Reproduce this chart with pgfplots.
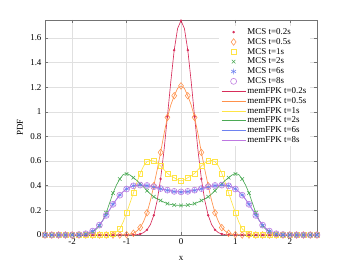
\documentclass[border=0pt]{standalone}
\usepackage{fontspec}
\setmainfont{Liberation Serif}
\usepackage{pgfplots}
\usepackage{pgfplotstable}
\pgfplotsset{compat=1.18}
\definecolor{cA}{RGB}{215,45,90}
\definecolor{cB}{RGB}{255,145,75}
\definecolor{cC}{RGB}{255,228,70}
\definecolor{cD}{RGB}{75,170,85}
\definecolor{cE}{RGB}{110,130,240}
\definecolor{cF}{RGB}{190,120,225}
\pgfplotstableread{
x a b c d e f
-2.5 0 0 0 0 0 0
-2.375 0 0 0 0 0 0
-2.25 0 0 0 0 0 0
-2.125 0 0 0 0 0 0
-2.0 0 0 0 0 0.001 0.001
-1.875 0 0 0 0.001 0.003 0.003
-1.75 0 0 0 0.006 0.010 0.010
-1.625 0 0 0 0.025 0.032 0.032
-1.5 0 0 0 0.075 0.080 0.080
-1.375 0 0 0.001 0.18 0.160 0.159
-1.25 0 0 0.010 0.34 0.250 0.249
-1.125 0 0 0.050 0.455 0.325 0.323
-1.0 0 0.003 0.18 0.495 0.375 0.373
-0.875 0.001 0.014 0.34 0.465 0.400 0.399
-0.75 0.008 0.06 0.50 0.415 0.405 0.405
-0.625 0.042 0.18 0.595 0.36 0.400 0.402
-0.5 0.16 0.40 0.60 0.31 0.390 0.392
-0.375 0.455 0.67 0.56 0.28 0.375 0.377
-0.25 0.96 0.955 0.50 0.255 0.362 0.364
-0.125 1.50 1.13 0.465 0.243 0.352 0.354
0 1.74 1.21 0.44 0.24 0.348 0.350
0.125 1.50 1.13 0.465 0.243 0.352 0.354
0.25 0.96 0.955 0.50 0.255 0.362 0.364
0.375 0.455 0.67 0.56 0.28 0.375 0.377
0.5 0.16 0.40 0.60 0.31 0.390 0.392
0.625 0.042 0.18 0.595 0.36 0.400 0.402
0.75 0.008 0.06 0.50 0.415 0.405 0.405
0.875 0.001 0.014 0.34 0.465 0.400 0.399
1.0 0 0.003 0.18 0.495 0.375 0.373
1.125 0 0 0.050 0.455 0.325 0.323
1.25 0 0 0.010 0.34 0.250 0.249
1.375 0 0 0.001 0.18 0.160 0.159
1.5 0 0 0 0.075 0.080 0.080
1.625 0 0 0 0.025 0.032 0.032
1.75 0 0 0 0.006 0.010 0.010
1.875 0 0 0 0.001 0.003 0.003
2.0 0 0 0 0 0.001 0.001
2.125 0 0 0 0 0 0
2.25 0 0 0 0 0 0
2.375 0 0 0 0 0 0
2.5 0 0 0 0 0 0
}\mcs
\pgfplotstableread{
x a b c d e f
-2.5 0 0 0 0 0 0
-2.0 0 0 0 0 0.001 0.001
-1.9375 0 0 0 0 0.002 0.002
-1.875 0 0 0 0.001 0.003 0.003
-1.8125 0 0 0 0.003 0.006 0.006
-1.75 0 0 0 0.006 0.010 0.010
-1.6875 0 0 0 0.013 0.019 0.019
-1.625 0 0 0 0.025 0.032 0.032
-1.5625 0 0 0 0.045 0.053 0.053
-1.5 0 0 0 0.075 0.080 0.080
-1.4375 0 0 0 0.12 0.118 0.118
-1.375 0 0 0.001 0.18 0.160 0.159
-1.3125 0 0 0.004 0.26 0.205 0.204
-1.25 0 0 0.010 0.34 0.250 0.249
-1.1875 0 0 0.025 0.405 0.290 0.288
-1.125 0 0 0.050 0.455 0.325 0.323
-1.0625 0 0.001 0.105 0.49 0.353 0.351
-1.0 0 0.003 0.18 0.50 0.375 0.373
-0.9375 0 0.007 0.26 0.487 0.390 0.388
-0.875 0.001 0.014 0.34 0.465 0.400 0.399
-0.8125 0.003 0.032 0.425 0.443 0.404 0.403
-0.75 0.008 0.06 0.50 0.415 0.405 0.405
-0.6875 0.019 0.11 0.56 0.39 0.403 0.404
-0.625 0.042 0.18 0.595 0.36 0.400 0.402
-0.5625 0.085 0.28 0.605 0.333 0.396 0.398
-0.5 0.16 0.40 0.60 0.31 0.390 0.392
-0.4375 0.28 0.53 0.585 0.293 0.383 0.385
-0.375 0.455 0.67 0.56 0.28 0.375 0.377
-0.3125 0.686 0.82 0.53 0.266 0.368 0.370
-0.25 0.96 0.955 0.50 0.255 0.362 0.364
-0.1875 1.244 1.055 0.48 0.248 0.357 0.359
-0.125 1.50 1.13 0.465 0.243 0.352 0.354
-0.0625 1.676 1.19 0.447 0.241 0.350 0.352
0 1.74 1.21 0.44 0.24 0.348 0.350
0.0625 1.676 1.19 0.447 0.241 0.350 0.352
0.125 1.50 1.13 0.465 0.243 0.352 0.354
0.1875 1.244 1.055 0.48 0.248 0.357 0.359
0.25 0.96 0.955 0.50 0.255 0.362 0.364
0.3125 0.686 0.82 0.53 0.266 0.368 0.370
0.375 0.455 0.67 0.56 0.28 0.375 0.377
0.4375 0.28 0.53 0.585 0.293 0.383 0.385
0.5 0.16 0.40 0.60 0.31 0.390 0.392
0.5625 0.085 0.28 0.605 0.333 0.396 0.398
0.625 0.042 0.18 0.595 0.36 0.400 0.402
0.6875 0.019 0.11 0.56 0.39 0.403 0.404
0.75 0.008 0.06 0.50 0.415 0.405 0.405
0.8125 0.003 0.032 0.425 0.443 0.404 0.403
0.875 0.001 0.014 0.34 0.465 0.400 0.399
0.9375 0 0.007 0.26 0.487 0.390 0.388
1.0 0 0.003 0.18 0.50 0.375 0.373
1.0625 0 0.001 0.105 0.49 0.353 0.351
1.125 0 0 0.050 0.455 0.325 0.323
1.1875 0 0 0.025 0.405 0.290 0.288
1.25 0 0 0.010 0.34 0.250 0.249
1.3125 0 0 0.004 0.26 0.205 0.204
1.375 0 0 0.001 0.18 0.160 0.159
1.4375 0 0 0 0.12 0.118 0.118
1.5 0 0 0 0.075 0.080 0.080
1.5625 0 0 0 0.045 0.053 0.053
1.625 0 0 0 0.025 0.032 0.032
1.6875 0 0 0 0.013 0.019 0.019
1.75 0 0 0 0.006 0.010 0.010
1.8125 0 0 0 0.003 0.006 0.006
1.875 0 0 0 0.001 0.003 0.003
1.9375 0 0 0 0 0.002 0.002
2.0 0 0 0 0 0.001 0.001
2.5 0 0 0 0 0 0
}\fpk
\pgfplotsset{
  mcs/.style={only marks, mark options={solid, line width=0.55bp},
    legend image code/.code={\draw[mark repeat=2,mark phase=2,##1] plot coordinates {(0bp,0bp)(12bp,0bp)(24bp,0bp)};}},
  fpk/.style={no marks, line width=0.65bp,
    legend image code/.code={\draw[##1] (0bp,0bp) -- (24bp,0bp);}},
}
\begin{document}
\begin{tikzpicture}[font=\fontsize{9}{11}\selectfont]
\useasboundingbox (-45bp,-29bp) rectangle (305bp,235bp);
\begin{axis}[
  at={(0,0)}, anchor=south west,
  scale only axis, width=272bp, height=215bp,
  xmin=-2.5, xmax=2.5, ymin=0, ymax=1.745,
  xtick={-2,-1,0,1,2},
  ytick={0,0.2,0.4,0.6,0.8,1,1.2,1.4,1.6},
  /pgf/number format/assume math mode=true,
  tick label style={font=\fontsize{9}{11}\selectfont},
  grid=major, major grid style={color=black!12, line width=0.4bp},
  axis line style={black!55, line width=0.5bp},
  tick style={black!55, line width=0.5bp},
  tick align=inside, major tick length=3bp,
  xlabel={x}, ylabel={PDF},
  x label style={at={(axis description cs:0.5,-0.107)}, anchor=center},
  y label style={at={(axis description cs:-0.092,0.5)}, anchor=center},
  legend cell align=left,
  legend style={at={(rel axis cs:1,1)}, anchor=north east, xshift=-7bp, yshift=-6bp,
    draw=none, fill=white, inner xsep=2bp, inner ysep=1bp,
    font=\fontsize{9}{11}\selectfont,
    nodes={inner xsep=1.5bp, inner ysep=1.2bp}},
]
\addplot[mcs, color=cA, mark=*, mark size=0.9bp] table[x=x,y=a]{\mcs};
\addlegendentry{MCS t=0.2s}
\addplot[mcs, color=cB, mark=diamond, mark size=3.3bp] table[x=x,y=b]{\mcs};
\addlegendentry{MCS t=0.5s}
\addplot[mcs, color=cC, mark=square, mark size=2.4bp] table[x=x,y=c]{\mcs};
\addlegendentry{MCS t=1s}
\addplot[mcs, color=cD, mark=x, mark size=2.5bp] table[x=x,y=d]{\mcs};
\addlegendentry{MCS t=2s}
\addplot[mcs, color=cE, mark=asterisk, mark size=2.8bp] table[x=x,y=e]{\mcs};
\addlegendentry{MCS t=6s}
\addplot[mcs, color=cF, mark=o, mark size=3bp] table[x=x,y=f]{\mcs};
\addlegendentry{MCS t=8s}
\addplot[fpk, color=cA] table[x=x,y=a]{\fpk};
\addlegendentry{memFPK t=0.2s}
\addplot[fpk, color=cB] table[x=x,y=b]{\fpk};
\addlegendentry{memFPK t=0.5s}
\addplot[fpk, color=cC] table[x=x,y=c]{\fpk};
\addlegendentry{memFPK t=1s}
\addplot[fpk, color=cD] table[x=x,y=d]{\fpk};
\addlegendentry{memFPK t=2s}
\addplot[fpk, color=cE] table[x=x,y=e]{\fpk};
\addlegendentry{memFPK t=6s}
\addplot[fpk, color=cF] table[x=x,y=f]{\fpk};
\addlegendentry{memFPK t=8s}
\end{axis}
\end{tikzpicture}
\end{document}
